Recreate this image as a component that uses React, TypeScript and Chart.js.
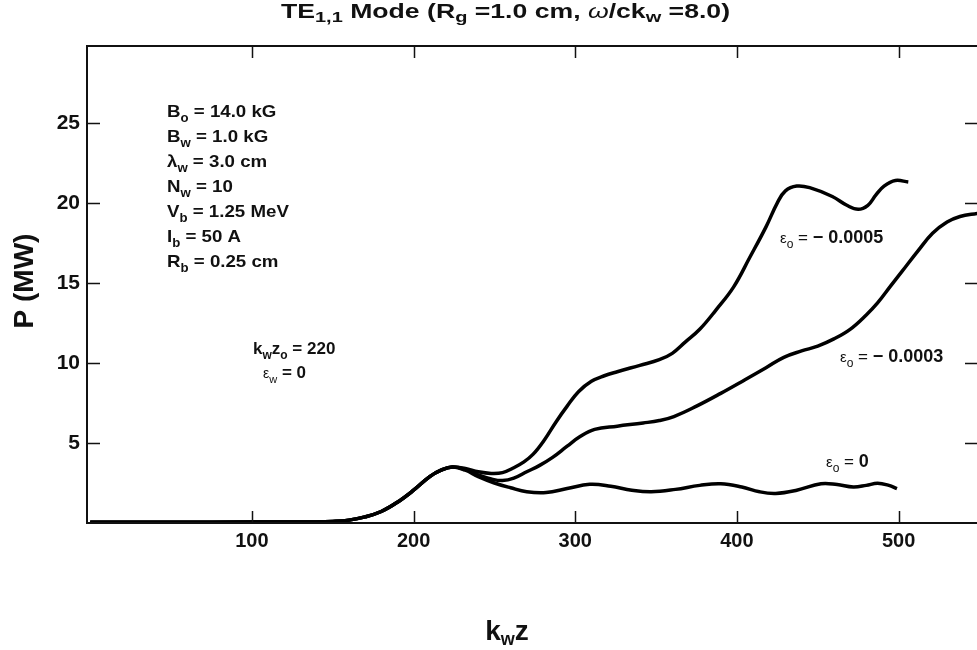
import React, { useEffect, useRef } from "react";
import { Chart, registerables } from "chart.js";
Chart.register(...registerables);

const FAMILY = "'Liberation Sans', Arial, Helvetica, sans-serif";

// Axis ticks
const X_TICKS = [100, 200, 300, 400, 500];
const Y_TICKS = [5, 10, 15, 20, 25];

// Shared start-up section (all three curves coincide up to the first peak)
const riseX = [0, 50, 100, 140, 150, 160, 170, 180, 190, 200, 210, 217, 224];
const riseY = [0.05, 0.05, 0.06, 0.07, 0.1, 0.18, 0.38, 0.72, 1.3, 2.05, 2.9, 3.3, 3.5];

// eps_o = 0
const eps0X = [232, 240, 250, 260, 270, 282, 295, 309, 322, 335, 347, 362, 377, 390, 403, 414, 424, 437, 452, 462, 472, 480, 487, 494, 499];
const eps0Y = [3.3, 2.9, 2.5, 2.2, 1.95, 1.9, 2.15, 2.42, 2.3, 2.05, 1.95, 2.1, 2.35, 2.45, 2.25, 1.95, 1.85, 2.05, 2.45, 2.4, 2.25, 2.35, 2.48, 2.35, 2.15];

// eps_o = -0.0003
const eps3X = [232, 240, 248, 255, 262, 270, 278, 286, 295, 303, 312, 326, 342, 352, 361, 375, 390, 405, 418, 429, 440, 450, 460, 470, 480, 487, 495, 502, 512, 521, 530, 538, 549];
const eps3Y = [3.35, 3.0, 2.75, 2.65, 2.8, 3.2, 3.6, 4.1, 4.8, 5.4, 5.85, 6.05, 6.25, 6.4, 6.65, 7.3, 8.1, 8.95, 9.7, 10.35, 10.75, 11.05, 11.5, 12.1, 13.0, 13.75, 14.8, 15.7, 17.0, 18.1, 18.8, 19.15, 19.35];

// eps_o = -0.0005
const eps5X = [232, 240, 248, 255, 262, 268, 274, 281, 288, 295, 302, 310, 318, 326, 340, 352, 360, 368, 377, 387, 398, 408, 418, 425, 430, 437, 445, 459, 468, 475, 481, 486, 491, 498, 506];
const eps5Y = [3.4, 3.2, 3.1, 3.15, 3.45, 3.8, 4.3, 5.2, 6.3, 7.3, 8.2, 8.85, 9.2, 9.45, 9.85, 10.2, 10.6, 11.3, 12.1, 13.3, 14.75, 16.6, 18.5, 20.0, 20.75, 21.05, 20.95, 20.4, 19.85, 19.6, 19.85, 20.5, 21.05, 21.4, 21.3];

const PARAM_LINES = [
  "B_{o} = 14.0 kG",
  "B_{w} = 1.0 kG",
  "λ_{w} = 3.0 cm",
  "N_{w} = 10",
  "V_{b} = 1.25 MeV",
  "I_{b} = 50 A",
  "R_{b} = 0.25 cm",
];

const toPts = (xs: number[], ys: number[]) => xs.map((x, i) => ({ x, y: ys[i] }));

type Seg = { t: string; size: number; weight?: string; style?: string; dy?: number };

function rich(str: string, size: number, subSize: number, subDy: number, weight = "bold"): Seg[] {
  const out: Seg[] = [];
  const re = /_\{([^}]*)\}/g;
  let last = 0;
  let m: RegExpExecArray | null;
  while ((m = re.exec(str))) {
    if (m.index > last) out.push({ t: str.slice(last, m.index), size, weight });
    out.push({ t: m[1], size: subSize, weight, dy: subDy });
    last = m.index + m[0].length;
  }
  if (last < str.length) out.push({ t: str.slice(last), size, weight });
  return out;
}

const segFont = (s: Seg) => `${s.style || "normal"} ${s.weight || "bold"} ${s.size}px ${FAMILY}`;

function measureSegs(ctx: CanvasRenderingContext2D, segs: Seg[]) {
  let w = 0;
  for (const s of segs) {
    ctx.font = segFont(s);
    w += ctx.measureText(s.t).width;
  }
  return w;
}

function drawSegs(ctx: CanvasRenderingContext2D, x: number, baseline: number, segs: Seg[], sx = 1) {
  ctx.save();
  ctx.translate(x, baseline);
  ctx.scale(sx, 1);
  ctx.textAlign = "left";
  ctx.textBaseline = "alphabetic";
  let cx = 0;
  for (const s of segs) {
    ctx.font = segFont(s);
    ctx.fillText(s.t, cx, s.dy || 0);
    cx += ctx.measureText(s.t).width;
  }
  ctx.restore();
}

const epsLabel = (value: string): Seg[] => [
  { t: "ε", size: 15, weight: "normal" },
  { t: "o", size: 12, weight: "normal", dy: 5 },
  { t: " = ", size: 17, weight: "normal" },
  { t: value, size: 18, weight: "bold" },
];

const decor = {
  id: "decor",
  afterDraw(chart: any) {
    const { ctx, chartArea: a } = chart;
    const xs = chart.scales.x;
    const ys = chart.scales.y;
    ctx.save();
    ctx.fillStyle = "#111";
    ctx.strokeStyle = "#111";
    // frame
    ctx.lineWidth = 2;
    ctx.beginPath();
    ctx.moveTo(a.right, a.top);
    ctx.lineTo(a.left, a.top);
    ctx.lineTo(a.left, a.bottom);
    ctx.lineTo(a.right, a.bottom);
    ctx.stroke();
    // inward ticks
    ctx.lineWidth = 1.5;
    ctx.beginPath();
    for (const v of X_TICKS) {
      const px = Math.round(xs.getPixelForValue(v)) + 0.5;
      ctx.moveTo(px, a.bottom);
      ctx.lineTo(px, a.bottom - 12);
      ctx.moveTo(px, a.top);
      ctx.lineTo(px, a.top + 12);
    }
    for (const v of Y_TICKS) {
      const py = Math.round(ys.getPixelForValue(v)) + 0.5;
      ctx.moveTo(a.left, py);
      ctx.lineTo(a.left + 13, py);
      ctx.moveTo(a.right, py);
      ctx.lineTo(a.right - 12, py);
    }
    ctx.stroke();

    // title (stretched wide typeface)
    const title: Seg[] = [
      { t: "TE", size: 20 },
      { t: "1,1", size: 15, dy: 4 },
      { t: " Mode (R", size: 20 },
      { t: "g", size: 15, dy: 4 },
      { t: " =1.0 cm, ", size: 20 },
      { t: "ω", size: 20, weight: "normal", style: "italic" },
      { t: "/ck", size: 20 },
      { t: "w", size: 15, dy: 4 },
      { t: " =8.0)", size: 20 },
    ];
    const tw = measureSegs(ctx, title);
    drawSegs(ctx, 281, 18, title, 449 / tw);

    // parameter block
    PARAM_LINES.forEach((line, i) => {
      drawSegs(ctx, 167, 117 + i * 25, rich(line, 17, 12, 5), 1.1);
    });

    // interaction annotations
    drawSegs(ctx, 253, 354, rich("k_{w}z_{o} = 220", 17, 12, 5));
    drawSegs(ctx, 263, 378, [
      { t: "ε", size: 14, weight: "normal" },
      { t: "w", size: 11, weight: "normal", dy: 5 },
      { t: " = 0", size: 17, weight: "bold" },
    ]);

    // curve labels
    drawSegs(ctx, 780, 243, epsLabel("− 0.0005"));
    drawSegs(ctx, 840, 362, epsLabel("− 0.0003"));
    drawSegs(ctx, 826, 467, epsLabel("0"));

    // axis titles
    ctx.save();
    ctx.translate(33, 281);
    ctx.rotate(-Math.PI / 2);
    ctx.font = `bold 28px ${FAMILY}`;
    ctx.textAlign = "center";
    ctx.textBaseline = "alphabetic";
    ctx.fillText("P (MW)", 0, 0);
    ctx.restore();

    const xt: Seg[] = [
      { t: "k", size: 28 },
      { t: "w", size: 18, dy: 5 },
      { t: "z", size: 28 },
    ];
    const xw = measureSegs(ctx, xt);
    drawSegs(ctx, 507 - xw / 2, 640, xt);
    ctx.restore();
  },
};

export default function App() {
  const ref = useRef<HTMLCanvasElement | null>(null);
  useEffect(() => {
    document.body.style.margin = "0";
    const canvas = ref.current!;
    const tickFont = { family: FAMILY, weight: "bold" as const };
    const line = (xs: number[], ys: number[]) => ({
      data: toPts(riseX, riseY).concat(toPts(xs, ys)),
      borderColor: "#000",
      borderWidth: 3.5,
      pointRadius: 0,
      fill: false,
      tension: 0.4,
    });
    const chart = new Chart(canvas, {
      type: "line",
      data: {
        datasets: [line(eps5X, eps5Y), line(eps3X, eps3Y), line(eps0X, eps0Y)],
      },
      options: {
        responsive: false,
        animation: false,
        layout: { padding: { top: 46, left: 0, right: 0, bottom: 0 } },
        plugins: { legend: { display: false }, tooltip: { enabled: false }, title: { display: false } },
        scales: {
          x: {
            type: "linear",
            min: -2,
            max: 548.5,
            grid: { display: false, drawTicks: false },
            border: { display: false },
            afterBuildTicks: (s: any) => {
              s.ticks = X_TICKS.map((v) => ({ value: v }));
            },
            afterFit: (s: any) => {
              s.height = 127;
            },
            ticks: { font: { ...tickFont, size: 20 }, color: "#111", padding: 6, maxRotation: 0, autoSkip: false },
          },
          y: {
            type: "linear",
            min: 0,
            max: 29.8,
            grid: { display: false, drawTicks: false },
            border: { display: false },
            afterBuildTicks: (s: any) => {
              s.ticks = Y_TICKS.map((v) => ({ value: v }));
            },
            afterFit: (s: any) => {
              s.width = 87;
            },
            ticks: { font: { ...tickFont, size: 21 }, color: "#111", padding: 7, autoSkip: false },
          },
        },
      },
      plugins: [decor],
    });
    return () => chart.destroy();
  }, []);
  return (
    <div style={{ width: 977, height: 650, background: "#fff" }}>
      <canvas ref={ref} width={977} height={650} style={{ display: "block" }} />
    </div>
  );
}
